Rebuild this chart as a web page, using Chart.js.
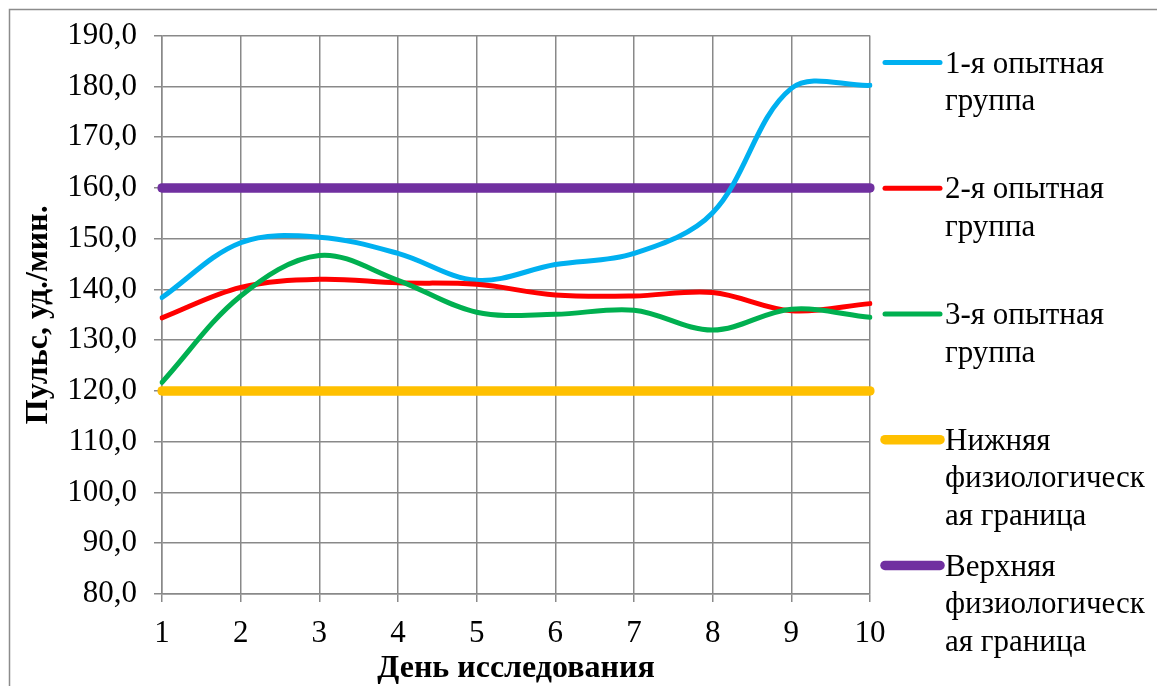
<!DOCTYPE html>
<html lang="ru">
<head>
<meta charset="utf-8">
<title>Пульс по дням исследования</title>
<script src="https://cdn.jsdelivr.net/npm/chart.js@4/dist/chart.umd.min.js"></script>
<style>
  html, body { margin: 0; padding: 0; background: #ffffff; }
  #wrap { width: 1157px; height: 686px; position: relative; }
</style>
</head>
<body>
<div id="wrap"><canvas id="pulse"></canvas></div>
<script>
// Дни исследования
const days = ['1', '2', '3', '4', '5', '6', '7', '8', '9', '10'];

// Пульс, уд./мин., по группам
const group1 = [138.4, 149.2, 150.3, 147.1, 141.8, 144.9, 147.1, 155.1, 179.6, 180.2];
const group2 = [134.4, 140.4, 142.0, 141.3, 141.0, 138.9, 138.7, 139.4, 135.8, 137.2];
const group3 = [121.7, 138.7, 146.7, 141.8, 135.5, 135.1, 135.9, 132.0, 136.1, 134.5];

// Физиологические границы
const lowerLimit = [120, 120, 120, 120, 120, 120, 120, 120, 120, 120];
const upperLimit = [160, 160, 160, 160, 160, 160, 160, 160, 160, 160];

// Шкала пульса
const yMin = 80;
const yMax = 190;
const yStep = 10;

// Подписи легенды (по строкам)
const legendLines = [
  ['1-я опытная', 'группа'],
  ['2-я опытная', 'группа'],
  ['3-я опытная', 'группа'],
  ['Нижняя', 'физиологическ', 'ая граница'],
  ['Верхняя', 'физиологическ', 'ая граница']
];

const GRID = '#898989';
const SERIF = "'Liberation Serif', 'Times New Roman', serif";

const datasets = [
  { label: legendLines[0].join(' '), data: group1, borderColor: '#00B0F0', borderWidth: 5, order: 3 },
  { label: legendLines[1].join(' '), data: group2, borderColor: '#FF0000', borderWidth: 5, order: 2 },
  { label: legendLines[2].join(' '), data: group3, borderColor: '#00B050', borderWidth: 5, order: 1 },
  { label: legendLines[3].join(' '), data: lowerLimit, borderColor: '#FFC000', borderWidth: 9.5, order: 4 },
  { label: legendLines[4].join(' '), data: upperLimit, borderColor: '#7030A0', borderWidth: 9.5, order: 5 }
].map(d => Object.assign({
  pointRadius: 0,
  pointHoverRadius: 0,
  tension: 0.35,
  fill: false,
  borderCapStyle: 'round',
  borderJoinStyle: 'round'
}, d));

// Белый фон и рамка области диаграммы
const framePlugin = {
  id: 'frame',
  beforeDraw(chart) {
    const ctx = chart.ctx;
    ctx.save();
    ctx.fillStyle = '#ffffff';
    ctx.fillRect(0, 0, chart.width, chart.height);
    ctx.strokeStyle = '#8c8c8c';
    ctx.lineWidth = 1.5;
    ctx.strokeRect(9.5, 9.5, chart.width + 20, chart.height + 20);
    ctx.restore();
  }
};

// Легенда справа с переносом подписей на несколько строк
const sideLegend = {
  id: 'sideLegend',
  afterDraw(chart) {
    const ctx = chart.ctx;
    const area = chart.chartArea;
    const x0 = area.right + 15;
    const x1 = x0 + 55;
    const textX = x1 + 5;
    const firstY = area.top + 27;
    const stepY = 125.7;
    const lineGap = 37.5;
    ctx.save();
    ctx.font = '31px ' + SERIF;
    ctx.textAlign = 'left';
    ctx.textBaseline = 'middle';
    legendLines.forEach((lines, i) => {
      const ds = chart.data.datasets[i];
      const y = firstY + i * stepY;
      ctx.strokeStyle = ds.borderColor;
      ctx.lineWidth = ds.borderWidth;
      ctx.lineCap = 'round';
      ctx.beginPath();
      ctx.moveTo(x0, y);
      ctx.lineTo(x1, y);
      ctx.stroke();
      ctx.fillStyle = '#000000';
      lines.forEach((t, k) => ctx.fillText(t, textX, y + 2 + k * lineGap));
    });
    ctx.restore();
  }
};

new Chart(document.getElementById('pulse'), {
  type: 'line',
  data: { labels: days, datasets },
  options: {
    responsive: true,
    maintainAspectRatio: false,
    animation: false,
    layout: { padding: { top: 33, right: 287, left: 0, bottom: 0 } },
    plugins: {
      legend: { display: false },
      tooltip: { enabled: false }
    },
    scales: {
      x: {
        type: 'category',
        offset: false,
        grid: { color: GRID, lineWidth: 1.5, tickLength: 8, tickColor: GRID },
        border: { display: true, color: GRID, width: 1.5 },
        ticks: { color: '#000', font: { family: SERIF, size: 31 }, padding: 13, maxRotation: 0, autoSkip: false },
        title: {
          display: true,
          text: 'День исследования',
          color: '#000',
          font: { family: SERIF, size: 32, weight: 'bold' },
          padding: { top: 0, bottom: -2 }
        },
        afterFit(scale) { scale.height = 92; }
      },
      y: {
        min: yMin,
        max: yMax,
        grid: { color: GRID, lineWidth: 1.5, tickLength: 8, tickColor: GRID },
        border: { display: true, color: GRID, width: 1.5 },
        ticks: {
          stepSize: yStep,
          color: '#000',
          font: { family: SERIF, size: 31 },
          padding: 17,
          callback: v => v.toFixed(1).replace('.', ',')
        },
        title: {
          display: true,
          text: 'Пульс, уд./мин.',
          color: '#000',
          font: { family: SERIF, size: 32, weight: 'bold' },
          padding: { top: 20, bottom: 0 }
        },
        afterFit(scale) { scale.width = 162; }
      }
    }
  },
  plugins: [framePlugin, sideLegend]
});
</script>
</body>
</html>
